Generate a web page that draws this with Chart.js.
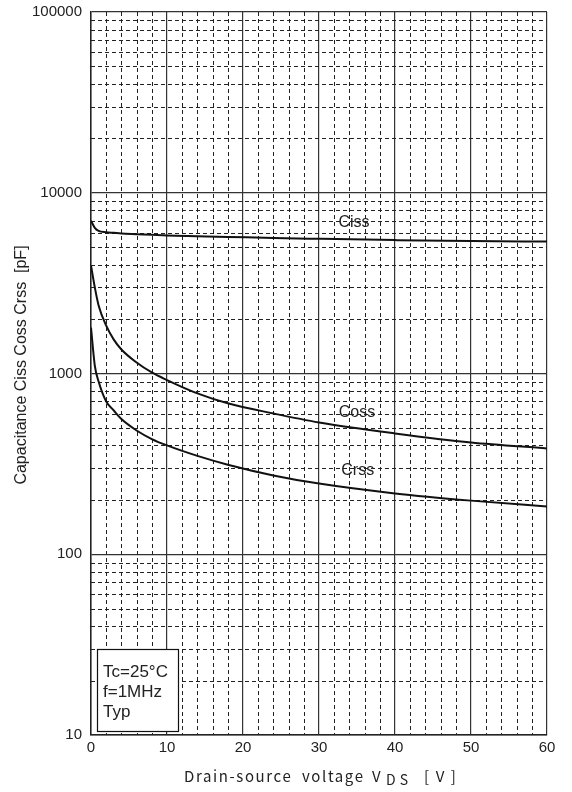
<!DOCTYPE html>
<html>
<head>
<meta charset="utf-8">
<script src="https://cdn.jsdelivr.net/npm/chart.js@4/dist/chart.umd.min.js"></script>
<style>
  html, body { margin: 0; padding: 0; background: #fff; }
  #wrap { width: 572px; height: 792px; }
</style>
</head>
<body>
<div id="wrap"><canvas id="capChart" width="572" height="792"></canvas></div>
<script>
// Drain-source voltage sample points [V]
const vds = [0, 0.5, 1, 2, 3, 4, 6, 8, 10, 14, 18, 24, 30, 40, 50, 60];
// Capacitances [pF]
const ciss = [7000, 6400, 6150, 6050, 6000, 5950, 5900, 5850, 5800, 5750, 5700, 5620, 5560, 5470, 5400, 5370];
const coss = [3960, 2995, 2380, 1840, 1540, 1358, 1150, 1013, 920, 776, 684, 601, 536, 466, 415, 385];
const crss = [1797, 1107, 903, 700, 624, 560, 484, 434, 400, 350, 313, 273, 246, 217, 198, 184];

// Axis ticks
const xTicks = [0, 2, 4, 6, 8, 10, 12, 14, 16, 18, 20, 22, 24, 26, 28, 30, 32, 34, 36, 38, 40, 42, 44, 46, 48, 50, 52, 54, 56, 58, 60];
const xLabels = [0, 10, 20, 30, 40, 50, 60];
const yTicks = [];
[10, 100, 1000, 10000].forEach(d => { for (let k = 1; k < 10; k++) yTicks.push(d * k); });
yTicks.push(100000);
const yLabels = [10, 100, 1000, 10000, 100000];

// Curve names placed on the plot (data coordinates)
const curveNames = ['Ciss', 'Coss', 'Crss'];
const nameAtV = [34.6, 35, 35.1];
const nameAtC = [6820, 608, 290];

const conditions = ['Tc=25°C', 'f=1MHz', 'Typ'];

const toPoints = ys => vds.map((v, i) => ({ x: v, y: ys[i] }));

const lineStyle = {
  borderColor: '#111',
  borderWidth: 2,
  pointRadius: 0,
  fill: false,
  cubicInterpolationMode: 'monotone'
};

// Dashed minor grid, curve names, condition box and axis titles
const decorPlugin = {
  id: 'decor',
  beforeDatasetsDraw(chart) {
    const { ctx, chartArea: a, scales: { x, y } } = chart;
    ctx.save();
    ctx.lineWidth = 1;
    ctx.strokeStyle = '#222';
    ctx.setLineDash([4, 3]);
    xTicks.forEach(v => {
      if (v % 10 === 0) return;
      const px = Math.round(x.getPixelForValue(v)) + 0.5;
      ctx.beginPath(); ctx.moveTo(px, a.top); ctx.lineTo(px, a.bottom); ctx.stroke();
    });
    yTicks.forEach(v => {
      if (yLabels.includes(v)) return;
      const py = Math.round(y.getPixelForValue(v)) + 0.5;
      ctx.beginPath(); ctx.moveTo(a.left, py); ctx.lineTo(a.right, py); ctx.stroke();
    });
    ctx.restore();
  },
  afterDatasetsDraw(chart) {
    const { ctx, chartArea: a, scales: { x, y } } = chart;
    ctx.save();
    ctx.fillStyle = '#222';
    ctx.font = '16px "Liberation Sans", Arial, sans-serif';
    ctx.textAlign = 'center';
    ctx.textBaseline = 'middle';
    curveNames.forEach((n, i) => {
      ctx.fillText(n, x.getPixelForValue(nameAtV[i]), y.getPixelForValue(nameAtC[i]));
    });

    // condition box
    const bx = a.left + 6, by = a.bottom - 86, bw = 81, bh = 82;
    ctx.fillStyle = '#fff';
    ctx.fillRect(bx, by, bw, bh);
    ctx.strokeStyle = '#111';
    ctx.lineWidth = 1.2;
    ctx.strokeRect(bx + 0.5, by + 0.5, bw, bh);
    ctx.fillStyle = '#222';
    ctx.font = '17px "Liberation Sans", Arial, sans-serif';
    ctx.textAlign = 'left';
    conditions.forEach((t, i) => ctx.fillText(t, bx + 6, by + 23 + i * 20));

    // x axis title with subscript
    ctx.textBaseline = 'alphabetic';
    ctx.letterSpacing = '1.6px';
    const base = 782;
    ctx.font = '15px "Noto Sans CJK JP", sans-serif';
    ctx.fillText('Drain-source', 184, base);
    ctx.fillText('voltage', 302, base);
    ctx.fillText('V', 372, base);
    ctx.fillText('[ V ]', 424, base);
    ctx.letterSpacing = '4px';
    ctx.font = '14px "Noto Sans CJK JP", sans-serif';
    ctx.fillText('DS', 386, base + 3);
    ctx.letterSpacing = '0px';

    // y axis title
    ctx.translate(22, 365);
    ctx.rotate(-Math.PI / 2);
    ctx.textAlign = 'center';
    ctx.textBaseline = 'middle';
    ctx.font = '16px "Liberation Sans", Arial, sans-serif';
    ctx.fillText('Capacitance Ciss Coss Crss  [pF]', 0, 0);
    ctx.restore();
  }
};

new Chart(document.getElementById('capChart'), {
  type: 'line',
  data: {
    datasets: [
      { label: 'Ciss', data: toPoints(ciss), ...lineStyle },
      { label: 'Coss', data: toPoints(coss), ...lineStyle },
      { label: 'Crss', data: toPoints(crss), ...lineStyle }
    ]
  },
  options: {
    responsive: false,
    animation: false,
    devicePixelRatio: 1,
    layout: { padding: { left: 0, right: 25, top: 12, bottom: 0 } },
    plugins: { legend: { display: false }, tooltip: { enabled: false } },
    scales: {
      x: {
        type: 'linear',
        min: 0,
        max: 60,
        afterBuildTicks: s => { s.ticks = xTicks.map(v => ({ value: v })); },
        afterFit: s => { s.height = 57; s.paddingLeft = 0; s.paddingRight = 0; },
        ticks: {
          autoSkip: false,
          maxRotation: 0,
          padding: 4,
          color: '#222',
          font: { family: '"Liberation Sans", Arial, sans-serif', size: 15 },
          callback: v => (xLabels.includes(v) ? String(v) : '')
        },
        grid: {
          drawTicks: false,
          color: c => (c.tick && c.tick.value % 10 === 0 ? '#333' : 'rgba(0,0,0,0)'),
          lineWidth: 1.2
        },
        border: { color: '#222', width: 1.5 }
      },
      y: {
        type: 'logarithmic',
        min: 10,
        max: 100000,
        afterBuildTicks: s => { s.ticks = yTicks.map(v => ({ value: v })); },
        afterFit: s => { s.width = 91; s.paddingTop = 0; s.paddingBottom = 0; },
        ticks: {
          autoSkip: false,
          padding: 9,
          color: '#222',
          font: { family: '"Liberation Sans", Arial, sans-serif', size: 15 },
          callback: v => (yLabels.includes(v) ? String(v) : '')
        },
        grid: {
          drawTicks: false,
          color: c => (c.tick && yLabels.includes(c.tick.value) ? '#333' : 'rgba(0,0,0,0)'),
          lineWidth: 1.2
        },
        border: { color: '#222', width: 1.5 }
      }
    }
  },
  plugins: [decorPlugin]
});
</script>
</body>
</html>
